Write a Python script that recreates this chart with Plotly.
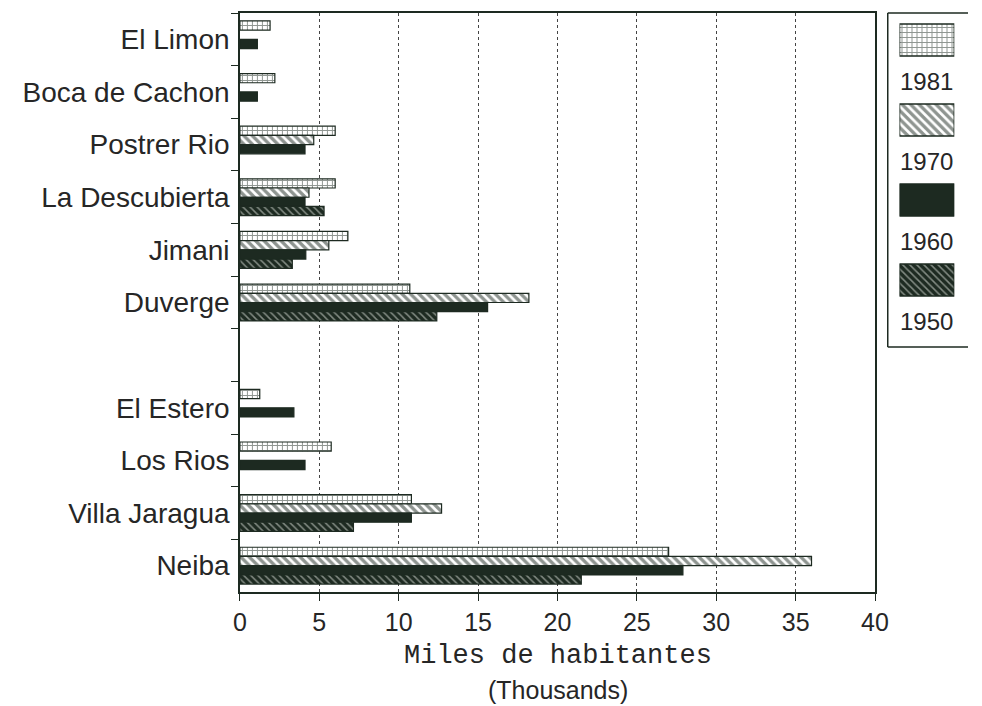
import plotly.graph_objects as go

# ---- data ----
towns = ["El Limon", "Boca de Cachon", "Postrer Rio", "La Descubierta", "Jimani",
         "Duverge", " ", "El Estero", "Los Rios", "Villa Jaragua", "Neiba"]
years = ["1981", "1970", "1960", "1950"]
v1981 = [1.9, 2.2, 6.0, 6.0, 6.8, 10.7, None, 1.25, 5.75, 10.8, 27.0]
v1970 = [None, None, 4.65, 4.35, 5.6, 18.2, None, None, None, 12.7, 36.0]
v1960 = [1.1, 1.1, 4.1, 4.1, 4.15, 15.6, None, 3.4, 4.1, 10.8, 27.9]
v1950 = [None, None, None, 5.3, 3.3, 12.4, None, None, None, 7.15, 21.5]
series = [v1981, v1970, v1960, v1950]
x_ticks = [0, 5, 10, 15, 20, 25, 30, 35, 40]
legend_vals = [1, 1, 1, 1]

INK = "#1d2a21"
TXT = "#262626"
W, H = 982, 706

def px_x(p):
    return min(p / W, 1.0)

def px_y(p):
    return 1 - p / H

patterns = [
    dict(shape="+", fgcolor=INK, bgcolor="white", size=5, solidity=0.35),
    dict(shape="\\", fgcolor=INK, bgcolor="white", size=6, solidity=0.55),
    dict(shape="", fgcolor=INK, bgcolor=INK),
    dict(shape="\\", fgcolor="#e8ece6", bgcolor=INK, size=5, solidity=0.3),
]
colors = ["white", "white", INK, INK]

fig = go.Figure()
for yr, vals, pat, col in zip(years, series, patterns, colors):
    fig.add_trace(go.Bar(
        x=vals, y=towns, orientation="h", name=yr,
        marker=dict(color=col, pattern=pat, line=dict(color=INK, width=1.2)),
        showlegend=False,
    ))

# legend swatches drawn as bars on a small side axis
for i, (yr, pat, col) in enumerate(zip(years, patterns, colors)):
    fig.add_trace(go.Bar(
        x=[legend_vals[i]], y=[i], orientation="h", width=0.4,
        marker=dict(color=col, pattern=pat, line=dict(color=INK, width=1.5)),
        xaxis="x2", yaxis="y2", showlegend=False, hoverinfo="skip",
    ))
    fig.add_annotation(
        text=yr, xref="paper", yref="paper",
        x=px_x(940), y=px_y(82 + 80 * i), showarrow=False,
        xanchor="center", yanchor="middle",
        font=dict(family="Liberation Sans, Arial", size=24, color=TXT),
    )

# legend frame (open on the right, it runs off the picture)
lx, ly0, ly1 = px_x(900), px_y(347), px_y(13)
for x0, y0, x1, y1 in [(lx, ly0, lx, ly1), (lx, ly1, 1.0, ly1), (lx, ly0, 1.0, ly0)]:
    fig.add_shape(type="line", xref="paper", yref="paper",
                  x0=x0, y0=y0, x1=x1, y1=y1, line=dict(color=INK, width=1.5))

fig.add_annotation(text="Miles de habitantes", xref="paper", yref="paper",
                   x=px_x(563), y=px_y(656), showarrow=False,
                   xanchor="center", yanchor="middle",
                   font=dict(family="Liberation Mono, Courier New, monospace", size=27, color=TXT))
fig.add_annotation(text="(Thousands)", xref="paper", yref="paper",
                   x=px_x(563), y=px_y(690), showarrow=False,
                   xanchor="center", yanchor="middle",
                   font=dict(family="Liberation Sans, Arial", size=25, color=TXT))

fig.update_layout(
    width=W, height=H,
    margin=dict(l=0, r=0, t=0, b=0),
    paper_bgcolor="white", plot_bgcolor="white",
    barmode="group", bargap=0.3, bargroupgap=0.0,
    font=dict(family="Liberation Sans, Arial", color=TXT),
    xaxis=dict(
        domain=[px_x(238), px_x(887)], range=[0, 40],
        tickvals=x_ticks, ticktext=[str(t) for t in x_ticks],
        ticks="outside", ticklen=7, tickcolor=INK, tickwidth=1.2,
        showline=True, linecolor=INK, linewidth=1.5, mirror=True,
        showgrid=True, gridcolor="#444444", griddash="dot", gridwidth=1.2,
        zeroline=False, tickfont=dict(size=25, color=TXT),
        anchor="y", fixedrange=True,
    ),
    yaxis=dict(
        domain=[px_y(592), px_y(13)],
        categoryorder="array", categoryarray=towns,
        range=[len(towns) - 0.5, -0.5],
        tickson="boundaries", ticks="outside", ticklen=7, tickcolor=INK, tickwidth=1.2,
        showline=True, linecolor=INK, linewidth=1.5, mirror=True,
        showgrid=False, zeroline=False,
        tickfont=dict(size=28, color=TXT), ticklabelstandoff=3,
        anchor="x", fixedrange=True,
    ),
    xaxis2=dict(domain=[px_x(912), px_x(968)], range=[0, 1], visible=False,
                anchor="y2", fixedrange=True),
    yaxis2=dict(domain=[px_y(320), 1.0], range=[3.5, -0.5], visible=False,
                anchor="x2", fixedrange=True),
)

fig.write_html("out.html", config={"displayModeBar": False},
               post_script="document.body.style.margin='0';document.body.style.overflow='hidden';")
